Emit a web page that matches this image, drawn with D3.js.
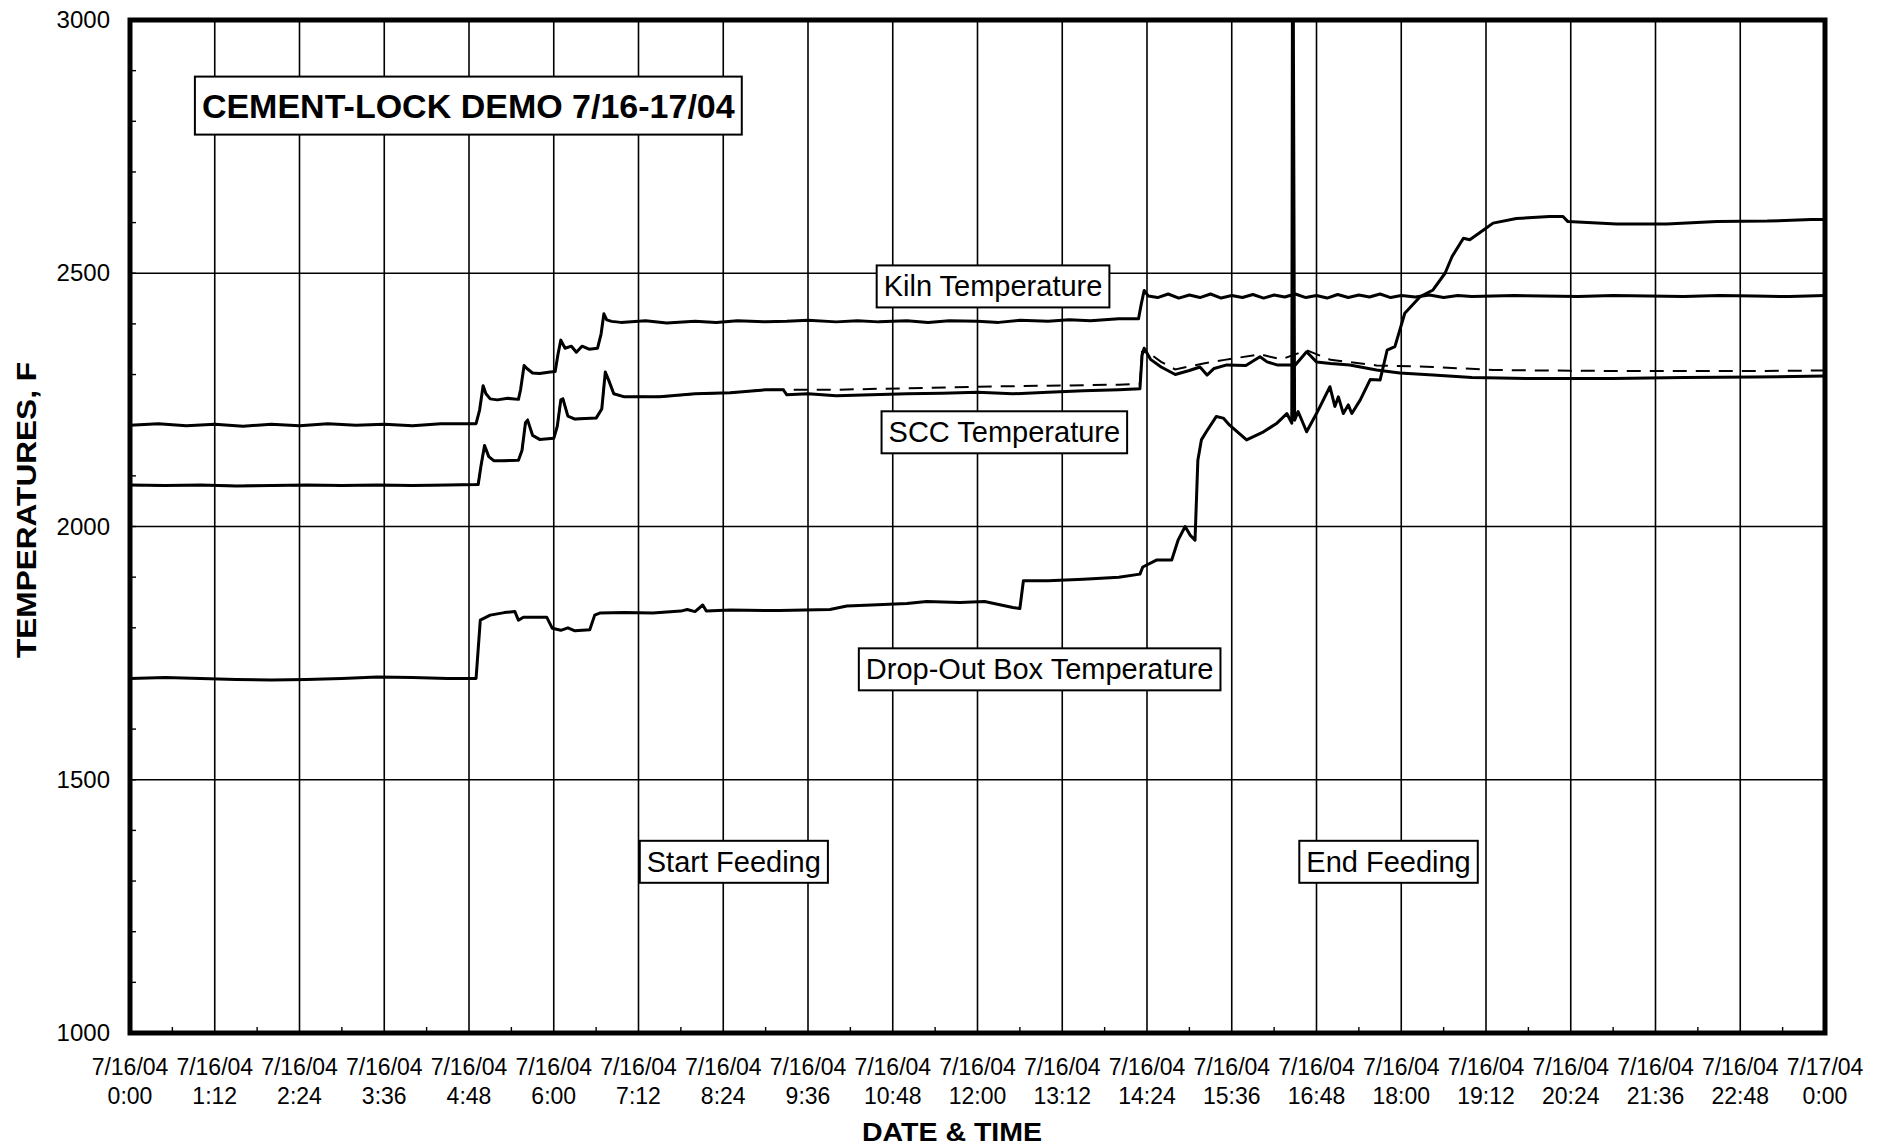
<!DOCTYPE html>
<html>
<head>
<meta charset="utf-8">
<script src="https://cdn.jsdelivr.net/npm/d3@7/dist/d3.min.js"></script>
<style>
  html, body { margin: 0; padding: 0; background: #fff; }
  svg { display: block; font-family: "Liberation Sans", Arial, sans-serif; }
</style>
</head>
<body>
<svg id="chart" width="1885" height="1146"></svg>
<script>
// ---------- DATA (time in hours since 7/16/04 0:00, temperatures in F) ----------
const xTickLabels = [
  ["7/16/04","0:00"],["7/16/04","1:12"],["7/16/04","2:24"],["7/16/04","3:36"],
  ["7/16/04","4:48"],["7/16/04","6:00"],["7/16/04","7:12"],["7/16/04","8:24"],
  ["7/16/04","9:36"],["7/16/04","10:48"],["7/16/04","12:00"],["7/16/04","13:12"],
  ["7/16/04","14:24"],["7/16/04","15:36"],["7/16/04","16:48"],["7/16/04","18:00"],
  ["7/16/04","19:12"],["7/16/04","20:24"],["7/16/04","21:36"],["7/16/04","22:48"],
  ["7/17/04","0:00"]
];
const yTickValues = [1000, 1500, 2000, 2500, 3000];

const kilnTime = [0,0.4,0.8,1.2,1.6,2.0,2.4,2.8,3.2,3.6,4.0,4.4,4.9,4.95,5.0,5.04,5.1,5.2,5.35,5.5,5.53,5.58,5.62,5.7,5.8,5.95,6.02,6.06,6.1,6.16,6.25,6.32,6.4,6.5,6.62,6.67,6.71,6.75,6.82,6.95,7.3,7.6,8.0,8.3,8.6,9.0,9.3,9.6,10.0,10.3,10.6,11.0,11.3,11.6,12.0,12.3,12.6,13.0,13.3,13.6,14.0,14.28,14.32,14.36,14.42,14.55,14.7,14.85,15.0,15.15,15.3,15.45,15.6,15.75,15.9,16.05,16.2,16.35,16.5,16.65,16.8,16.95,17.1,17.25,17.4,17.55,17.7,17.85,18.0,18.2,18.4,18.6,18.8,19.0,19.3,19.6,20.0,20.5,21.0,21.5,22.0,22.5,23.0,23.5,24.0];
const kilnTemp = [2200,2203,2199,2202,2198,2202,2199,2203,2200,2202,2199,2203,2203,2230,2278,2262,2252,2250,2253,2251,2270,2318,2312,2303,2302,2305,2306,2340,2368,2352,2356,2344,2356,2350,2352,2380,2420,2408,2405,2403,2406,2402,2405,2403,2406,2404,2405,2407,2404,2406,2404,2406,2403,2406,2405,2403,2407,2405,2408,2406,2410,2410,2440,2466,2455,2452,2459,2451,2457,2452,2459,2451,2456,2452,2458,2451,2457,2453,2459,2452,2456,2451,2458,2452,2457,2453,2459,2452,2456,2453,2457,2452,2456,2454,2455,2456,2455,2454,2456,2455,2454,2456,2455,2454,2456];

const sccTime = [0,0.5,1,1.5,2,2.5,3,3.5,4,4.5,4.93,4.97,5.02,5.08,5.15,5.3,5.5,5.55,5.6,5.63,5.7,5.8,6.0,6.05,6.1,6.13,6.2,6.3,6.6,6.68,6.73,6.78,6.85,7.0,7.5,8.0,8.5,9.0,9.25,9.3,9.6,10.0,10.5,11.0,11.5,12.0,12.5,13.0,13.5,14.0,14.3,14.33,14.36,14.45,14.6,14.8,15.0,15.15,15.25,15.35,15.53,15.8,16.0,16.1,16.24,16.5,16.66,16.8,17.0,17.27,17.65,17.98,18.45,19.0,19.4,20.0,21.0,22.0,23.0,24.0];
const sccTemp = [2082,2081,2082,2080,2081,2082,2081,2082,2081,2082,2083,2120,2160,2138,2130,2130,2131,2150,2205,2210,2180,2172,2174,2198,2250,2252,2218,2212,2214,2232,2305,2288,2262,2256,2256,2262,2264,2270,2270,2260,2262,2258,2260,2262,2263,2265,2262,2265,2268,2270,2272,2338,2352,2330,2315,2300,2308,2315,2299,2312,2319,2318,2335,2325,2319,2319,2345,2325,2322,2319,2309,2303,2299,2294,2293,2292,2292,2294,2295,2297];

const scc2Time = [0,0.5,1,1.5,2,2.5,3,3.5,4,4.5,4.93,4.97,5.02,5.08,5.15,5.3,5.5,5.55,5.6,5.63,5.7,5.8,6.0,6.05,6.1,6.13,6.2,6.3,6.6,6.68,6.73,6.78,6.85,7.0,7.5,8.0,8.5,9.0,9.25,9.3,10.0,11.0,12.0,13.0,14.0,14.3,14.33,14.4,14.6,14.8,15.2,15.5,16.0,16.3,16.66,17.0,17.65,18.45,19.3,20.0,21.0,22.0,23.0,24.0];
const scc2Temp = [2082,2081,2082,2080,2081,2082,2081,2082,2081,2082,2083,2120,2160,2138,2130,2130,2131,2150,2205,2210,2180,2172,2174,2198,2250,2252,2218,2212,2214,2232,2305,2288,2262,2256,2256,2262,2264,2270,2270,2270,2270,2273,2276,2278,2280,2282,2345,2345,2325,2310,2322,2329,2340,2330,2348,2329,2318,2315,2309,2308,2307,2307,2307,2308];

const dropTime = [0,0.5,1,1.5,2,2.5,3,3.5,4,4.5,4.9,4.96,5.1,5.3,5.45,5.5,5.57,5.9,5.98,6.1,6.2,6.3,6.51,6.58,6.65,7.0,7.4,7.8,7.89,8.0,8.11,8.16,8.5,9.2,9.91,10.15,10.5,11.0,11.28,11.75,12.1,12.5,12.6,12.65,13.0,13.5,14.0,14.3,14.34,14.54,14.75,14.84,14.94,15.01,15.08,15.12,15.17,15.24,15.38,15.48,15.57,15.81,16.05,16.24,16.38,16.45,16.46,16.47,16.49,16.54,16.66,16.8,16.99,17.06,17.11,17.18,17.25,17.3,17.42,17.56,17.7,17.8,17.91,18.05,18.27,18.45,18.62,18.72,18.88,18.97,19.16,19.3,19.63,20.1,20.29,20.36,21.05,21.76,22.47,23.18,23.81,24.0];
const dropTemp = [1700,1702,1700,1698,1697,1698,1700,1703,1702,1700,1700,1815,1825,1830,1832,1815,1821,1821,1799,1795,1800,1794,1796,1825,1829,1830,1829,1833,1836,1832,1845,1833,1835,1834,1836,1843,1845,1848,1852,1850,1852,1840,1838,1893,1893,1896,1900,1906,1920,1934,1934,1973,2000,1983,1973,2131,2171,2187,2217,2214,2200,2171,2187,2204,2223,2204,3100,3100,2210,2227,2187,2223,2276,2237,2256,2223,2240,2223,2250,2290,2289,2348,2355,2421,2454,2467,2500,2533,2569,2566,2585,2599,2608,2612,2612,2602,2597,2597,2602,2603,2606,2606];

const annotations = [
  { text: "CEMENT-LOCK DEMO 7/16-17/04", t: 4.79, v: 2831, size: 34, bold: true },
  { text: "Kiln Temperature", t: 12.22, v: 2474, size: 29, bold: false },
  { text: "SCC Temperature", t: 12.38, v: 2186, size: 29, bold: false },
  { text: "Drop-Out Box Temperature", t: 12.88, v: 1718, size: 29, bold: false },
  { text: "Start Feeding", t: 8.55, v: 1338, size: 29, bold: false },
  { text: "End Feeding", t: 17.82, v: 1338, size: 29, bold: false }
];

// ---------- LAYOUT ----------
const svg = d3.select("#chart");
const L = 130, R = 1825, T = 20, B = 1033;

const x = d3.scaleLinear().domain([0, 24]).range([L, R]);
const y = d3.scaleLinear().domain([1000, 3000]).range([B, T]);

const gridTimes = d3.range(0, 24.001, 1.2);

// gridlines
svg.append("g").selectAll("line").data(gridTimes.slice(1, -1)).join("line")
  .attr("x1", d => x(d)).attr("x2", d => x(d))
  .attr("y1", T).attr("y2", B)
  .attr("stroke", "#000").attr("stroke-width", 1.6);
svg.append("g").selectAll("line").data(yTickValues.slice(1, -1)).join("line")
  .attr("x1", L).attr("x2", R)
  .attr("y1", d => y(d)).attr("y2", d => y(d))
  .attr("stroke", "#000").attr("stroke-width", 1.6);

// minor ticks (inside)
svg.append("g").selectAll("line").data(d3.range(1100, 3000, 100)).join("line")
  .attr("x1", L).attr("x2", L + 6)
  .attr("y1", d => y(d)).attr("y2", d => y(d))
  .attr("stroke", "#000").attr("stroke-width", 1.4);
svg.append("g").selectAll("line").data(d3.range(0.6, 24, 1.2)).join("line")
  .attr("x1", d => x(d)).attr("x2", d => x(d))
  .attr("y1", B).attr("y2", B - 6)
  .attr("stroke", "#000").attr("stroke-width", 1.4);

// clip
svg.append("clipPath").attr("id", "plotclip").append("rect")
  .attr("x", L).attr("y", T).attr("width", R - L).attr("height", B - T);

const line = d3.line().x(d => x(d[0])).y(d => y(d[1]));
const zip = (a, b) => a.map((t, i) => [t, b[i]]);

const lines = svg.append("g").attr("clip-path", "url(#plotclip)");
lines.append("path").datum(zip(scc2Time, scc2Temp))
  .attr("d", line).attr("fill", "none").attr("stroke", "#000")
  .attr("stroke-width", 2).attr("stroke-dasharray", "14,9");
[[kilnTime, kilnTemp], [sccTime, sccTemp], [dropTime, dropTemp]].forEach(([tt, vv]) => {
  lines.append("path").datum(zip(tt, vv))
    .attr("d", line).attr("fill", "none").attr("stroke", "#000")
    .attr("stroke-width", 3).attr("stroke-linejoin", "round");
});

// frame
svg.append("rect").attr("x", L).attr("y", T).attr("width", R - L).attr("height", B - T)
  .attr("fill", "none").attr("stroke", "#000").attr("stroke-width", 5);

// y tick labels
const yAxis = d3.axisLeft(y).tickValues(yTickValues).tickFormat(d3.format("d"))
  .tickSize(0).tickPadding(0);
const yg = svg.append("g").attr("transform", `translate(${L - 20},0)`).call(yAxis);
yg.select(".domain").remove();
yg.selectAll("text").attr("font-size", 24).attr("fill", "#000")
  .attr("font-family", "Liberation Sans, Arial, sans-serif");

// x tick labels (two lines)
const xg = svg.append("g");
xg.selectAll("text").data(gridTimes).join("text")
  .attr("x", d => x(d)).attr("y", 1075)
  .attr("text-anchor", "middle").attr("font-size", 23)
  .each(function(d, i) {
    const el = d3.select(this);
    el.append("tspan").attr("x", x(d)).attr("dy", 0).text(xTickLabels[i][0]);
    el.append("tspan").attr("x", x(d)).attr("dy", 29).text(xTickLabels[i][1]);
  });

// axis titles
svg.append("text").attr("x", 952).attr("y", 1141)
  .attr("text-anchor", "middle").attr("font-size", 26).attr("font-weight", "bold")
  .attr("textLength", 180).attr("lengthAdjust", "spacingAndGlyphs")
  .text("DATE & TIME");
svg.append("text").attr("transform", `translate(36,510) rotate(-90)`)
  .attr("text-anchor", "middle").attr("font-size", 27).attr("font-weight", "bold")
  .attr("textLength", 296).attr("lengthAdjust", "spacingAndGlyphs")
  .text("TEMPERATURES, F");

// annotation boxes
annotations.forEach(a => {
  const g = svg.append("g");
  const txt = g.append("text").attr("x", x(a.t)).attr("y", y(a.v))
    .attr("text-anchor", "middle").attr("dominant-baseline", "central")
    .attr("font-size", a.size).attr("font-weight", a.bold ? "bold" : "normal")
    .text(a.text);
  const bb = txt.node().getBBox();
  g.insert("rect", "text")
    .attr("x", bb.x - 7).attr("y", bb.y - (a.bold ? 10 : 5))
    .attr("width", bb.width + 14).attr("height", bb.height + (a.bold ? 20 : 10))
    .attr("fill", "#fff").attr("stroke", "#000").attr("stroke-width", 2);
});
</script>
</body>
</html>
